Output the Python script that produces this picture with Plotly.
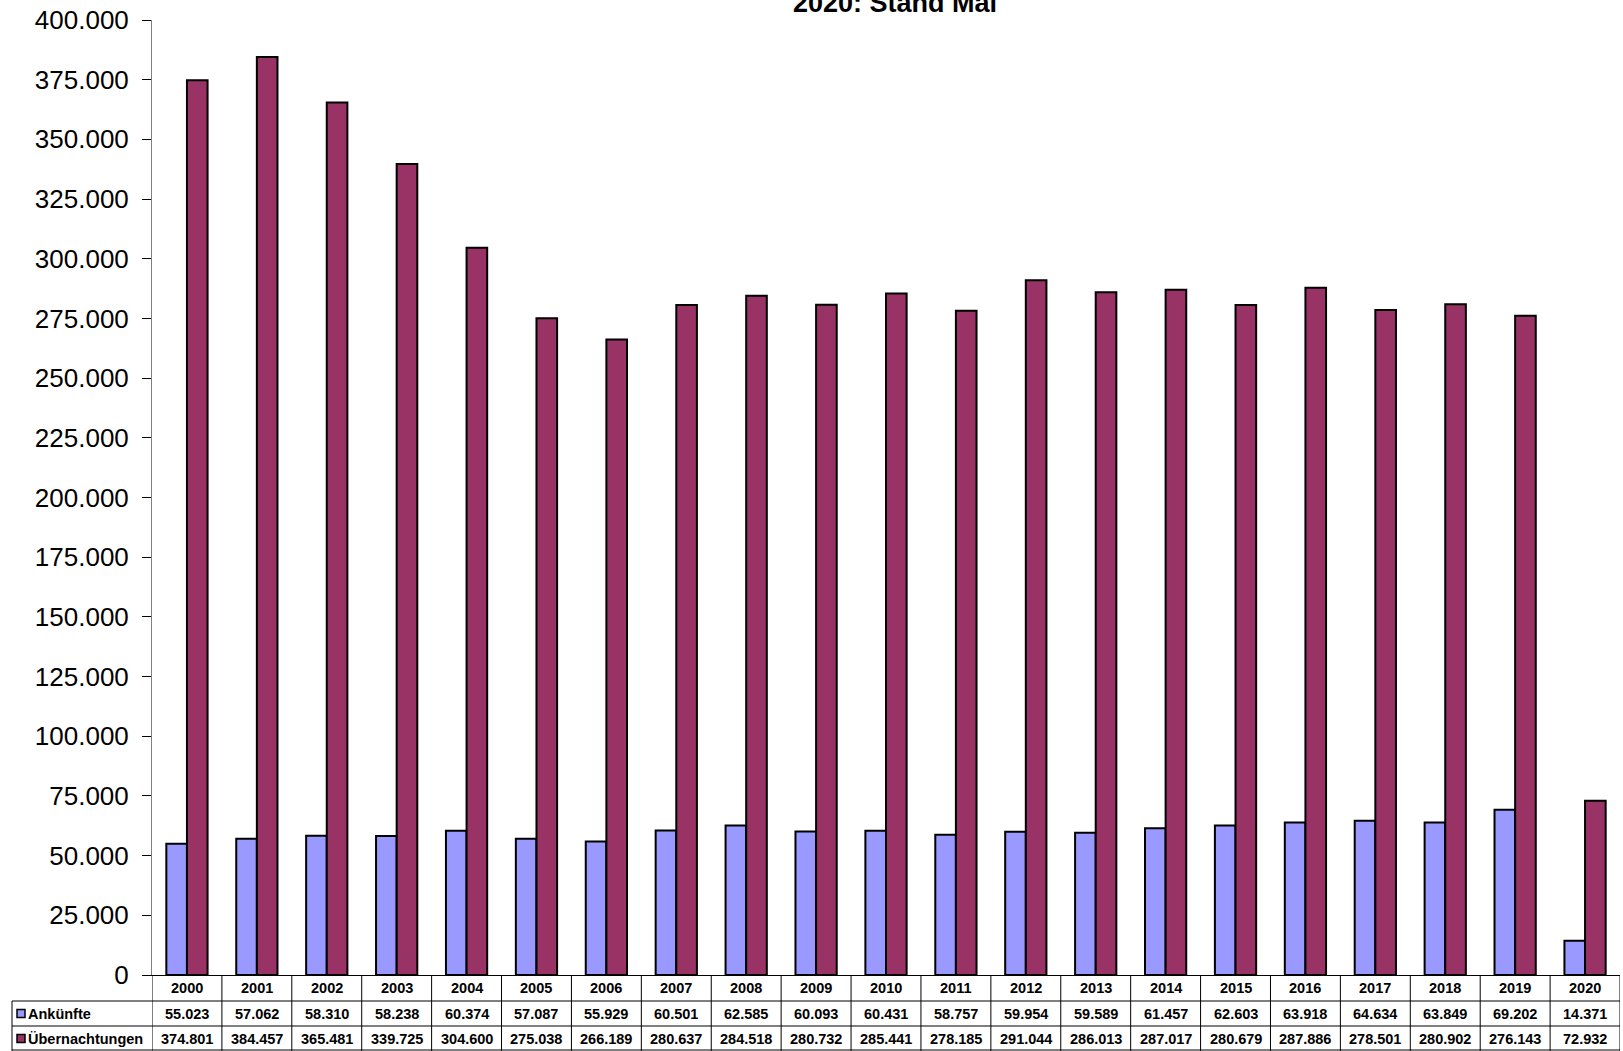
import plotly.graph_objects as go

# Jahreswerte (Stand Mai 2020)
years = [str(y) for y in range(2000, 2021)]
ankuenfte = [55023, 57062, 58310, 58238, 60374, 57087, 55929, 60501, 62585, 60093,
             60431, 58757, 59954, 59589, 61457, 62603, 63918, 64634, 63849, 69202, 14371]
uebernachtungen = [374801, 384457, 365481, 339725, 304600, 275038, 266189, 280637, 284518, 280732,
                   285441, 278185, 291044, 286013, 287017, 280679, 287886, 278501, 280902, 276143, 72932]
series_names = ["Ankünfte", "Übernachtungen"]
series_colors = ["#9999FF", "#993366"]
title_text = "2020: Stand Mai"

W, H = 1623, 1051
L, R, T, B = 152, 3, 20, 76
plot_w = W - L - R
plot_h = H - T - B
FONT = "Liberation Sans, Arial, sans-serif"


def px_x(p):
    return (p - L) / plot_w


def px_y(p):
    return (H - B - p) / plot_h


def fmt(v):
    return f"{v:,}".replace(",", ".")


fig = go.Figure()
for name, vals, col in zip(series_names, [ankuenfte, uebernachtungen], series_colors):
    fig.add_trace(go.Bar(
        x=years, y=vals, name=name,
        marker=dict(color=col, line=dict(color="black", width=2)),
    ))

shapes = []
annotations = []

line = dict(color="black", width=1)
row_edges = [975, 1001, 1026, 1050]
row_centers = [988, 1013.5, 1038.5]

# vertical lines of the table
for i in range(len(years) + 1):
    shapes.append(dict(type="line", xref="x", yref="paper", x0=i - 0.5, x1=i - 0.5,
                       y0=px_y(975), y1=px_y(1051), line=line))
shapes.append(dict(type="line", xref="paper", yref="paper", x0=px_x(12), x1=px_x(12),
                   y0=px_y(1001), y1=px_y(1051), line=line))
# horizontal lines
for e in row_edges[1:]:
    shapes.append(dict(type="line", xref="paper", yref="paper", x0=px_x(12), x1=1,
                       y0=px_y(e), y1=px_y(e), line=line))

cell_font = dict(family=FONT, size=14.5, color="black")

# year header
for i, y in enumerate(years):
    annotations.append(dict(x=i, xref="x", y=px_y(row_centers[0]), yref="paper",
                            text="<b>%s</b>" % y, showarrow=False, yanchor="middle",
                            font=cell_font))

# data rows
for r, (name, vals, col) in enumerate(zip(series_names, [ankuenfte, uebernachtungen], series_colors)):
    yc = row_centers[r + 1]
    for i, v in enumerate(vals):
        annotations.append(dict(x=i, xref="x", y=px_y(yc), yref="paper",
                                text="<b>%s</b>" % fmt(v), showarrow=False, yanchor="middle",
                                font=cell_font))
    annotations.append(dict(x=px_x(26), xref="paper", y=px_y(yc), yref="paper",
                            text="<b>%s</b>" % name, showarrow=False, xanchor="left",
                            yanchor="middle", font=cell_font))
    shapes.append(dict(type="rect", xref="paper", yref="paper",
                       x0=px_x(17), x1=px_x(25), y0=px_y(yc + 4), y1=px_y(yc - 4),
                       fillcolor=col, line=dict(color="black", width=1.5)))

annotations.append(dict(x=px_x(895), xref="paper", y=1.0, yref="paper", text="<b>%s</b>" % title_text,
                        showarrow=False, yanchor="bottom",
                        font=dict(family=FONT, size=27, color="black")))

fig.update_layout(
    width=W, height=H,
    margin=dict(l=L, r=R, t=T, b=B),
    plot_bgcolor="white", paper_bgcolor="white",
    separators=",.",
    barmode="group", bargap=0.41, bargroupgap=0,
    showlegend=False,
    shapes=shapes, annotations=annotations,
    font=dict(family=FONT, color="black"),
)
fig.update_xaxes(type="category", showticklabels=False, ticks="", showgrid=False, showline=True,
                 linecolor="black", linewidth=1, range=[-0.5, len(years) - 0.5])
fig.update_yaxes(range=[0, 400000], dtick=25000, tickformat=",d", showgrid=False,
                 showline=True, linecolor="#808080", linewidth=1, ticks="outside",
                 ticklen=9, tickcolor="black", ticklabelstandoff=8,
                 tickfont=dict(family=FONT, size=26, color="black"), zeroline=False)

fig.write_html("out.html", config={"displayModeBar": False},
               post_script="document.body.style.margin='0';")
